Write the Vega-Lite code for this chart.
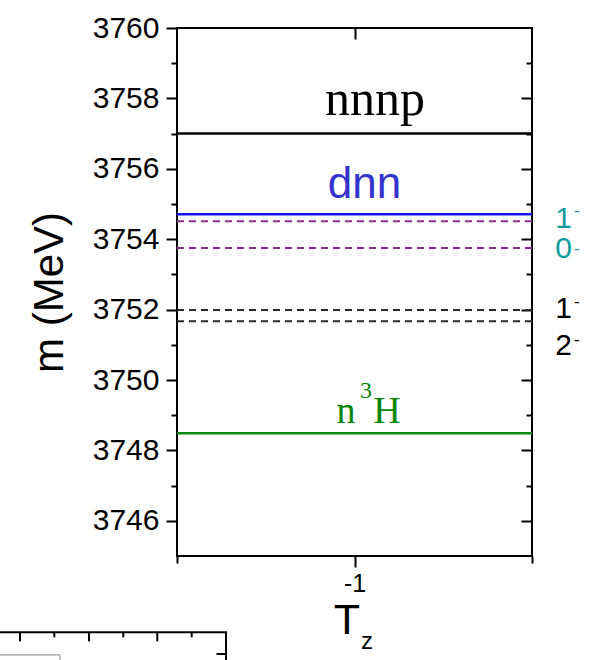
{
  "$schema": "https://vega.github.io/schema/vega-lite/v6.json",
  "width": 355,
  "height": 528,
  "autosize": {"type": "none"},
  "padding": {"left": 177, "top": 28, "right": 62, "bottom": 104},
  "background": "white",
  "config": {
    "view": {"stroke": "#000000", "strokeWidth": 2},
    "axis": {
      "domain": false,
      "grid": false,
      "tickColor": "#000000",
      "tickWidth": 2,
      "labelColor": "#000000",
      "labelFont": "Liberation Sans",
      "titleFont": "Liberation Sans",
      "titleColor": "#000000",
      "titleFontWeight": "normal"
    },
    "text": {"baseline": "alphabetic", "align": "center"}
  },
  "datasets": {
    "levels": [
      {"state": "nnnp", "E": 3757.0, "kind": "threshold", "grp": "nnnp"},
      {"state": "dnn", "E": 3754.71, "kind": "threshold", "grp": "dnn"},
      {"state": "n3H", "E": 3748.49, "kind": "threshold", "grp": "n3H"},
      {"state": "1- a", "E": 3754.51, "kind": "resonance", "grp": "upper"},
      {"state": "0-", "E": 3753.75, "kind": "resonance", "grp": "upper"},
      {"state": "1- b", "E": 3751.99, "kind": "resonance", "grp": "lower"},
      {"state": "2-", "E": 3751.67, "kind": "resonance", "grp": "lower"}
    ],
    "labels": [
      {"t": "nnnp", "x": -0.9423, "E": 3757.53, "role": "nnnp"},
      {"t": "dnn", "x": -0.9718, "E": 3755.17, "role": "dnn"},
      {"t": "n", "x": -1.0239, "E": 3748.78, "role": "n3H"},
      {"t": "H", "x": -0.9085, "E": 3748.78, "role": "n3H"},
      {"t": "3", "x": -0.9676, "E": 3749.49, "role": "sup3"},
      {"t": "1", "x": -0.4113, "E": 3754.32, "role": "jp_teal"},
      {"t": "0", "x": -0.4113, "E": 3753.47, "role": "jp_teal"},
      {"t": "1", "x": -0.4113, "E": 3751.76, "role": "jp_black"},
      {"t": "2", "x": -0.4113, "E": 3750.71, "role": "jp_black"},
      {"t": "-", "x": -0.374, "E": 3754.66, "role": "minus_teal"},
      {"t": "-", "x": -0.374, "E": 3753.57, "role": "minus_teal"},
      {"t": "-", "x": -0.374, "E": 3752.07, "role": "minus_black"},
      {"t": "-", "x": -0.374, "E": 3750.99, "role": "minus_black"},
      {"t": "T", "x": -1.0211, "E": 3742.78, "role": "T"},
      {"t": "z", "x": -0.9648, "E": 3742.36, "role": "z"}
    ],
    "frag": [
      {"x": -1.9986, "x2": -1.3592, "E": 3742.832, "E2": 3742.832, "part": "axis"},
      {"x": -1.362, "x2": -1.362, "E": 3742.84, "E2": 3742.0, "part": "axis"},
      {"x": -1.9423, "x2": -1.9423, "E": 3742.832, "E2": 3742.575, "part": "axis"},
      {"x": -1.8456, "x2": -1.8456, "E": 3742.832, "E2": 3742.69, "part": "axis"},
      {"x": -1.7479, "x2": -1.7479, "E": 3742.832, "E2": 3742.575, "part": "axis"},
      {"x": -1.6513, "x2": -1.6513, "E": 3742.832, "E2": 3742.69, "part": "axis"},
      {"x": -1.5555, "x2": -1.5555, "E": 3742.832, "E2": 3742.575, "part": "axis"},
      {"x": -1.4586, "x2": -1.4586, "E": 3742.832, "E2": 3742.69, "part": "axis"},
      {"x": -1.3887, "x2": -1.362, "E": 3742.216, "E2": 3742.216, "part": "axis"},
      {"x": -1.9986, "x2": -1.8296, "E": 3742.19, "E2": 3742.19, "part": "box"},
      {"x": -1.8296, "x2": -1.8296, "E": 3742.19, "E2": 3742.0, "part": "box"}
    ]
  },
  "layer": [
    {
      "data": {"name": "levels"},
      "transform": [{"filter": "datum.kind == 'threshold'"}],
      "mark": {"type": "rule", "strokeWidth": 2.5},
      "encoding": {
        "y": {"field": "E", "type": "quantitative", "scale": {"domain": [3745, 3760], "nice": false, "zero": false}, "axis": null},
        "color": {"field": "grp", "type": "nominal", "legend": null,
          "scale": {"domain": ["nnnp", "dnn", "n3H", "upper", "lower"], "range": ["#000000", "#1414f0", "#0a860a", "#8e2c8e", "#2a2a2a"]}}
      }
    },
    {
      "data": {"name": "levels"},
      "transform": [{"filter": "datum.kind == 'resonance'"}],
      "mark": {"type": "rule", "strokeWidth": 2, "strokeDash": [7, 5]},
      "encoding": {
        "y": {"field": "E", "type": "quantitative", "scale": {"domain": [3745, 3760], "nice": false, "zero": false}, "axis": null},
        "color": {"field": "grp", "type": "nominal", "legend": null,
          "scale": {"domain": ["nnnp", "dnn", "n3H", "upper", "lower"], "range": ["#000000", "#1414f0", "#0a860a", "#8e2c8e", "#2a2a2a"]}}
      }
    },
    {
      "data": {"name": "labels"},
      "transform": [{"filter": "datum.role == 'nnnp'"}],
      "mark": {"type": "text", "font": "Liberation Serif", "fontSize": 50, "color": "#000000"},
      "encoding": {
        "text": {"field": "t"},
        "x": {"field": "x", "type": "quantitative", "scale": {"domain": [-1.5, -0.5], "nice": false, "zero": false},
          "axis": {"orient": "top", "values": [-1], "labels": false, "tickSize": -11, "title": null}},
        "y": {"field": "E", "type": "quantitative", "scale": {"domain": [3745, 3760], "nice": false, "zero": false},
          "axis": {"orient": "right", "values": [3746, 3747, 3748, 3749, 3750, 3751, 3752, 3753, 3754, 3755, 3756, 3757, 3758, 3759], "labels": false,
            "tickSize": {"condition": {"test": "datum.value % 2 == 0", "value": -11}, "value": -6}, "title": null}}
      }
    },
    {
      "data": {"name": "labels"},
      "transform": [{"filter": "datum.role == 'dnn'"}],
      "mark": {"type": "text", "font": "Liberation Sans", "fontSize": 44, "color": "#3333cc"},
      "encoding": {
        "text": {"field": "t"},
        "x": {"field": "x", "type": "quantitative", "scale": {"domain": [-1.5, -0.5], "nice": false, "zero": false},
          "axis": {"orient": "bottom", "values": [-1.5, -1, -0.5], "labelExpr": "datum.value == -1 ? '-1' : ''",
            "tickSize": {"condition": {"test": "datum.value == -1", "value": 11}, "value": 7},
            "labelFontSize": 25, "labelPadding": 4, "labelFlush": false, "title": null}},
        "y": {"field": "E", "type": "quantitative", "scale": {"domain": [3745, 3760], "nice": false, "zero": false},
          "axis": {"orient": "left", "values": [3746, 3747, 3748, 3749, 3750, 3751, 3752, 3753, 3754, 3755, 3756, 3757, 3758, 3759, 3760],
            "format": "d", "labelExpr": "datum.value % 2 == 0 ? datum.label : ''",
            "tickSize": {"condition": {"test": "datum.value % 2 == 0", "value": 11}, "value": 6},
            "labelFontSize": 30, "labelPadding": 7, "title": "m (MeV)", "titleFontSize": 42, "titlePadding": 21}}
      }
    },
    {
      "data": {"name": "labels"},
      "transform": [{"filter": "datum.role == 'n3H'"}],
      "mark": {"type": "text", "font": "Liberation Serif", "fontSize": 38, "color": "#0a860a"},
      "encoding": {
        "text": {"field": "t"},
        "x": {"field": "x", "type": "quantitative", "axis": null},
        "y": {"field": "E", "type": "quantitative", "axis": null}
      }
    },
    {
      "data": {"name": "labels"},
      "transform": [{"filter": "datum.role == 'sup3'"}],
      "mark": {"type": "text", "font": "Liberation Serif", "fontSize": 24, "color": "#0a860a"},
      "encoding": {
        "text": {"field": "t"},
        "x": {"field": "x", "type": "quantitative", "axis": null},
        "y": {"field": "E", "type": "quantitative", "axis": null}
      }
    },
    {
      "data": {"name": "labels"},
      "transform": [{"filter": "datum.role == 'jp_teal'"}],
      "mark": {"type": "text", "font": "Liberation Sans", "fontSize": 30, "color": "#149c9c"},
      "encoding": {
        "text": {"field": "t"},
        "x": {"field": "x", "type": "quantitative", "axis": null},
        "y": {"field": "E", "type": "quantitative", "axis": null}
      }
    },
    {
      "data": {"name": "labels"},
      "transform": [{"filter": "datum.role == 'jp_black'"}],
      "mark": {"type": "text", "font": "Liberation Sans", "fontSize": 30, "color": "#000000"},
      "encoding": {
        "text": {"field": "t"},
        "x": {"field": "x", "type": "quantitative", "axis": null},
        "y": {"field": "E", "type": "quantitative", "axis": null}
      }
    },
    {
      "data": {"name": "labels"},
      "transform": [{"filter": "datum.role == 'minus_teal'"}],
      "mark": {"type": "text", "font": "Liberation Sans", "fontSize": 17, "color": "#149c9c"},
      "encoding": {
        "text": {"field": "t"},
        "x": {"field": "x", "type": "quantitative", "axis": null},
        "y": {"field": "E", "type": "quantitative", "axis": null}
      }
    },
    {
      "data": {"name": "labels"},
      "transform": [{"filter": "datum.role == 'minus_black'"}],
      "mark": {"type": "text", "font": "Liberation Sans", "fontSize": 17, "color": "#000000"},
      "encoding": {
        "text": {"field": "t"},
        "x": {"field": "x", "type": "quantitative", "axis": null},
        "y": {"field": "E", "type": "quantitative", "axis": null}
      }
    },
    {
      "data": {"name": "labels"},
      "transform": [{"filter": "datum.role == 'T'"}],
      "mark": {"type": "text", "font": "Liberation Sans", "fontSize": 43, "color": "#000000"},
      "encoding": {
        "text": {"field": "t"},
        "x": {"field": "x", "type": "quantitative", "axis": null},
        "y": {"field": "E", "type": "quantitative", "axis": null}
      }
    },
    {
      "data": {"name": "labels"},
      "transform": [{"filter": "datum.role == 'z'"}],
      "mark": {"type": "text", "font": "Liberation Sans", "fontSize": 24, "color": "#000000"},
      "encoding": {
        "text": {"field": "t"},
        "x": {"field": "x", "type": "quantitative", "axis": null},
        "y": {"field": "E", "type": "quantitative", "axis": null}
      }
    },
    {
      "data": {"name": "frag"},
      "transform": [{"filter": "datum.part == 'axis'"}],
      "mark": {"type": "rule", "strokeWidth": 2, "color": "#000000"},
      "encoding": {
        "x": {"field": "x", "type": "quantitative", "axis": null},
        "x2": {"field": "x2"},
        "y": {"field": "E", "type": "quantitative", "axis": null},
        "y2": {"field": "E2"}
      }
    },
    {
      "data": {"name": "frag"},
      "transform": [{"filter": "datum.part == 'box'"}],
      "mark": {"type": "rule", "strokeWidth": 1, "color": "#808080"},
      "encoding": {
        "x": {"field": "x", "type": "quantitative", "axis": null},
        "x2": {"field": "x2"},
        "y": {"field": "E", "type": "quantitative", "axis": null},
        "y2": {"field": "E2"}
      }
    }
  ],
  "resolve": {"axis": {"x": "independent", "y": "independent"}}
}
